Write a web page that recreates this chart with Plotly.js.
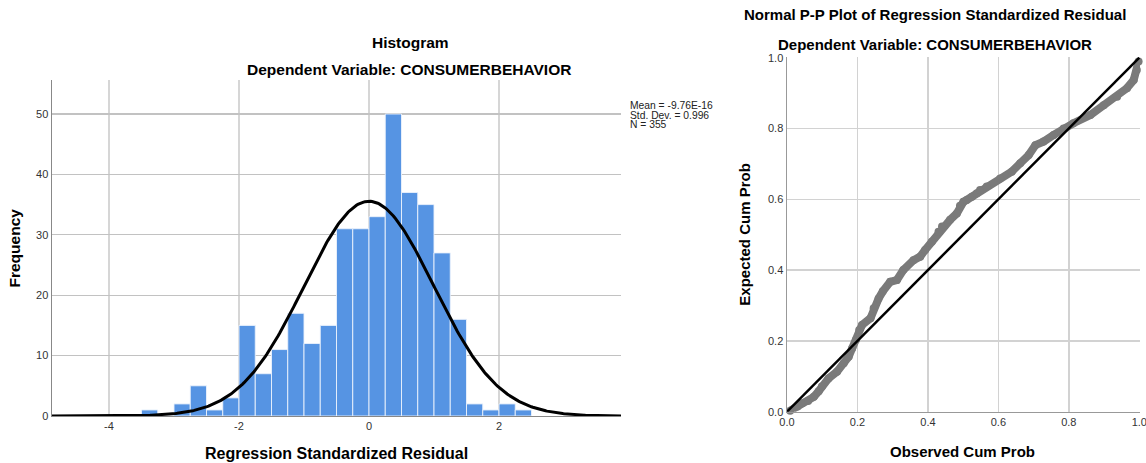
<!DOCTYPE html>
<html>
<head>
<meta charset="utf-8">
<script src="https://cdn.plot.ly/plotly-3.0.1.min.js"></script>
<style>html,body{margin:0;padding:0;background:#fff;}#chart{width:1146px;height:463px;}</style>
</head>
<body>
<div id="chart"></div>
<script>
// ---- Histogram data (bins of width 0.25) ----
const binStarts = [-3.5,-3.25,-3.0,-2.75,-2.5,-2.25,-2.0,-1.75,-1.5,-1.25,-1.0,-0.75,-0.5,-0.25,0.0,0.25,0.5,0.75,1.0,1.25,1.5,1.75,2.0,2.25];
const binCounts = [1,0,2,5,1,3,15,7,11,17,12,15,31,31,33,50,37,35,27,16,2,1,2,1];
const binWidth = 0.25;
// ---- Summary statistics shown on the chart ----
const statMean = -9.76e-16;
const statSD = 0.996;
const statN = 355;
const statLabels = ["Mean = -9.76E-16", "Std. Dev. = 0.996", "N = 355"];
// ---- Histogram axis ticks ----
const histXTicks = [-4, -2, 0, 2];
const histYTicks = [0, 10, 20, 30, 40, 50];
// ---- Normal P-P plot points ----
const observedCum = [0.009,0.03,0.043,0.06,0.076,0.09,0.099,0.118,0.142,0.161,0.175,0.185,0.196,0.205,0.213,0.237,0.246,0.26,0.272,0.293,0.312,0.33,0.359,0.378,0.392,0.411,0.43,0.44,0.463,0.482,0.491,0.501,0.51,0.525,0.539,0.548,0.567,0.605,0.638,0.662,0.686,0.705,0.728,0.757,0.785,0.813,0.861,0.899,0.937,0.965,0.984,0.993,0.998];
const expectedCum = [0.003,0.015,0.024,0.03,0.042,0.058,0.071,0.094,0.113,0.137,0.155,0.179,0.203,0.231,0.245,0.264,0.292,0.32,0.34,0.367,0.372,0.40,0.428,0.438,0.457,0.48,0.508,0.523,0.542,0.56,0.582,0.593,0.598,0.607,0.617,0.626,0.636,0.659,0.678,0.702,0.725,0.753,0.763,0.782,0.80,0.815,0.838,0.866,0.89,0.914,0.937,0.965,0.989];
const refLineX = [0, 1];
const refLineY = [0, 1];
const ppTicks = [0, 0.2, 0.4, 0.6, 0.8, 1.0];

// bin centers
const binCenters = binStarts.map(s => s + binWidth / 2);

// fitted normal curve from the stated mean, SD, N and bin width
const xMin = -4.877, xMax = 3.877;
const curveX = [], curveY = [];
for (let i = 0; i <= 400; i++) {
  const x = xMin + (xMax - xMin) * i / 400;
  const z = (x - statMean) / statSD;
  curveX.push(x);
  curveY.push(statN * binWidth * Math.exp(-0.5 * z * z) / (statSD * Math.sqrt(2 * Math.PI)));
}

const W = 1146, H = 463;
const px = v => v / W;
const py = v => 1 - v / H;
const FONT = "Liberation Sans, Arial, sans-serif";

const traces = [
  {type:'bar', x:binCenters, y:binCounts, width:binWidth, xaxis:'x', yaxis:'y',
   marker:{color:'#5694e3', line:{color:'rgba(235,242,252,0.9)', width:1}}, hoverinfo:'x+y'},
  {type:'scatter', mode:'lines', x:curveX, y:curveY, xaxis:'x', yaxis:'y',
   line:{color:'#000', width:3}, cliponaxis:false},
  {type:'scatter', mode:'lines+markers', x:observedCum, y:expectedCum, xaxis:'x2', yaxis:'y2',
   line:{color:'#7a7a7a', width:8}, marker:{color:'#7a7a7a', size:8}, cliponaxis:false},
  {type:'scatter', mode:'lines', x:refLineX, y:refLineY, xaxis:'x2', yaxis:'y2',
   line:{color:'#000', width:2.5}, cliponaxis:false}
];

const tickFont = {family:FONT, size:11, color:'#333'};
const layout = {
  width:W, height:H, margin:{l:0,r:0,t:0,b:0},
  paper_bgcolor:'#fff', plot_bgcolor:'#fff', showlegend:false, bargap:0,
  font:{family:FONT},
  xaxis:{domain:[px(52), px(621)], range:[xMin, xMax], tickvals:histXTicks, ticktext:histXTicks.map(String),
         showgrid:true, gridcolor:'#d6d6d6', gridwidth:2, zeroline:false, showline:true, linecolor:'#888', linewidth:1,
         ticks:'', tickfont:tickFont, anchor:'y', fixedrange:true},
  yaxis:{domain:[py(416), py(80)], range:[0, 55.63], tickvals:histYTicks,
         showgrid:true, gridcolor:'#c2c2c2', gridwidth:1.3, zeroline:false, showline:true, linecolor:'#888', linewidth:1.5,
         ticks:'', tickfont:tickFont, anchor:'x', fixedrange:true},
  xaxis2:{domain:[px(787), px(1140)], range:[0, 1.002], tickvals:ppTicks, tickformat:'.1f', ticklabeloverflow:'allow',
         showgrid:true, gridcolor:'#d2d2d2', gridwidth:1.5, zeroline:false, showline:true, linecolor:'#999', linewidth:1.5,
         ticks:'', tickfont:tickFont, anchor:'y2', fixedrange:true},
  yaxis2:{domain:[py(411.7), py(57.0)], range:[0, 1.002], tickvals:ppTicks, tickformat:'.1f', ticklabeloverflow:'allow',
         showgrid:true, gridcolor:'#d2d2d2', gridwidth:1.5, zeroline:false, showline:true, linecolor:'#999', linewidth:1.5,
         ticks:'', tickfont:tickFont, anchor:'x2', fixedrange:true},
  annotations:[
    {text:'<b>Histogram</b>', x:px(410), y:py(43), font:{family:FONT, size:15.5, color:'#000'}},
    {text:'<b>Dependent Variable: CONSUMERBEHAVIOR</b>', x:px(409), y:py(69.5), font:{family:FONT, size:15.5, color:'#000'}},
    {text:'<b>Regression Standardized Residual</b>', x:px(336.5), y:py(453.5), font:{family:FONT, size:16, color:'#000'}},
    {text:'<b>Frequency</b>', x:px(13.5), y:py(248), textangle:-90, font:{family:FONT, size:15.5, color:'#000'}},
    {text:statLabels[0], x:px(628), y:py(105), xanchor:'left', font:{family:FONT, size:10.3, color:'#222'}},
    {text:statLabels[1], x:px(628), y:py(115), xanchor:'left', font:{family:FONT, size:10.3, color:'#222'}},
    {text:statLabels[2], x:px(628), y:py(125), xanchor:'left', font:{family:FONT, size:10.3, color:'#222'}},
    {text:'<b>Normal P-P Plot of Regression Standardized Residual</b>', x:px(934.7), y:py(15), font:{family:FONT, size:15, color:'#000'}},
    {text:'<b>Dependent Variable: CONSUMERBEHAVIOR</b>', x:px(935), y:py(44), font:{family:FONT, size:15, color:'#000'}},
    {text:'<b>Observed Cum Prob</b>', x:px(962.5), y:py(451.5), font:{family:FONT, size:15, color:'#000'}},
    {text:'<b>Expected Cum Prob</b>', x:px(745), y:py(234.7), textangle:-90, font:{family:FONT, size:15, color:'#000'}}
  ].map(a => Object.assign({xref:'paper', yref:'paper', showarrow:false, xanchor:'center', yanchor:'middle'}, a))
};

Plotly.newPlot('chart', traces, layout, {staticPlot:true, displayModeBar:false});
</script>
</body>
</html>
